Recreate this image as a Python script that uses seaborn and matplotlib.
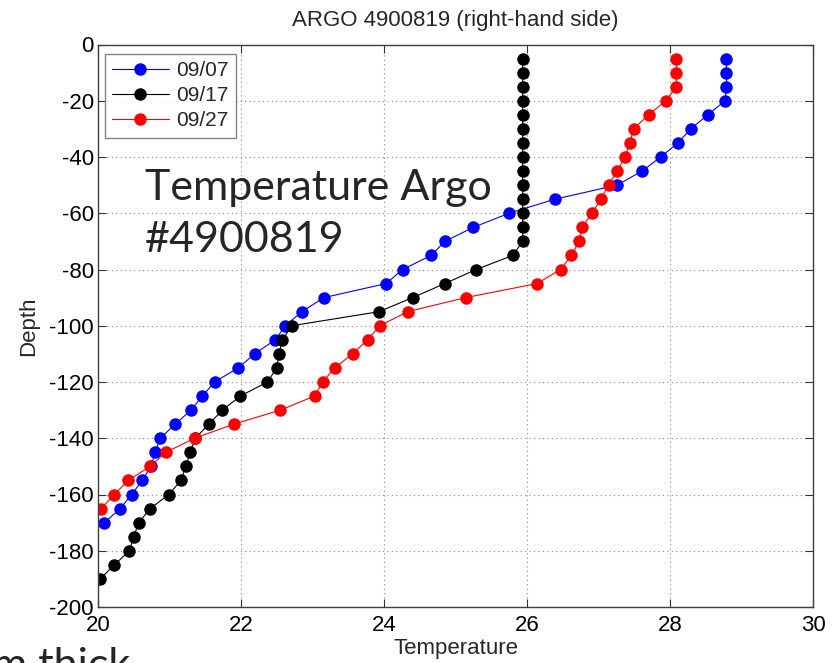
import matplotlib
matplotlib.use("Agg")
import matplotlib.pyplot as plt
import seaborn as sns
import pandas as pd
import numpy as np

# Argo float 4900819 temperature profiles (depth in m, negative downward)
depth_0907 = [-5, -10, -15, -20, -25, -30, -35, -40, -45, -50, -55, -60, -65, -70, -75, -80,
              -85, -90, -95, -100, -105, -110, -115, -120, -125, -130, -135, -140, -145, -150,
              -155, -160, -165, -170]
temp_0907 = [28.79, 28.79, 28.79, 28.77, 28.53, 28.29, 28.11, 27.87, 27.61, 27.26, 26.39, 25.75,
             25.25, 24.85, 24.66, 24.26, 24.03, 23.16, 22.85, 22.62, 22.48, 22.19, 21.96, 21.63,
             21.46, 21.30, 21.08, 20.87, 20.80, 20.74, 20.62, 20.47, 20.31, 20.09]

depth_0917 = [-5, -10, -15, -20, -25, -30, -35, -40, -45, -50, -55, -60, -65, -70, -75, -80,
              -85, -90, -95, -100, -105, -110, -115, -120, -125, -130, -135, -140, -145, -150,
              -155, -160, -165, -170, -175, -180, -185, -190]
temp_0917 = [25.94, 25.94, 25.94, 25.94, 25.94, 25.94, 25.94, 25.94, 25.94, 25.94, 25.94, 25.94,
             25.94, 25.94, 25.80, 25.29, 24.85, 24.40, 23.93, 22.71, 22.58, 22.53, 22.50, 22.37,
             21.99, 21.74, 21.55, 21.36, 21.29, 21.23, 21.16, 20.99, 20.73, 20.57, 20.50, 20.44,
             20.23, 20.03]

depth_0927 = [-5, -10, -15, -20, -25, -30, -35, -40, -45, -50, -55, -60, -65, -70, -75, -80,
              -85, -90, -95, -100, -105, -110, -115, -120, -125, -130, -135, -140, -145, -150,
              -155, -160, -165]
temp_0927 = [28.09, 28.09, 28.09, 27.94, 27.70, 27.49, 27.44, 27.37, 27.26, 27.14, 27.03, 26.91,
             26.77, 26.73, 26.62, 26.47, 26.14, 25.14, 24.33, 23.94, 23.77, 23.56, 23.31, 23.14,
             23.03, 22.55, 21.90, 21.35, 20.95, 20.73, 20.42, 20.23, 20.04]

dates = ["09/07", "09/17", "09/27"]
colors = ["#0000ff", "#000000", "#ff0000"]
x_ticks = [20, 22, 24, 26, 28, 30]
y_ticks = list(range(0, -201, -20))

profiles = pd.concat([
    pd.DataFrame({"Temperature": t, "Depth": d, "Date": lab, "order": np.arange(len(d))})
    for t, d, lab in zip([temp_0907, temp_0917, temp_0927],
                         [depth_0907, depth_0917, depth_0927], dates)
], ignore_index=True)

sns.set_style("white")
plt.rcParams["font.family"] = ["Liberation Sans", "DejaVu Sans"]
plt.rcParams["axes.unicode_minus"] = False

fig = plt.figure(figsize=(8.35, 6.63), dpi=100)
ax = fig.add_axes([98 / 835, 1 - 607 / 663, (813 - 98) / 835, (607 - 44.5) / 663])

sns.lineplot(data=profiles, x="Temperature", y="Depth", hue="Date", hue_order=dates,
             palette=colors, sort=False, estimator=None, marker="o", markersize=9,
             markeredgewidth=0, linewidth=0.8, ax=ax)

ax.set_xlim(20, 30)
ax.set_ylim(-200, 0)
ax.set_xticks(x_ticks)
ax.set_yticks(y_ticks)
ax.tick_params(direction="in", length=6, width=0.8, labelsize=16, colors="#333333",
               labelcolor="black", top=True, right=True, bottom=True, left=True, pad=3)
ax.tick_params(axis="x", pad=6)
ax.grid(True, linestyle=(0, (1, 3)), color="#888888", linewidth=0.8)
for s in ax.spines.values():
    s.set_color("#404040")
    s.set_linewidth(1.0)

ax.set_title("ARGO 4900819 (right-hand side)", fontsize=16, pad=13)
ax.set_xlabel("Temperature", fontsize=16, labelpad=1)
ax.set_ylabel("Depth", fontsize=16, labelpad=7)

leg = ax.legend(loc="upper left", fontsize=15, frameon=True, fancybox=False,
                handlelength=2.7, handletextpad=0.35, borderpad=0.35, labelspacing=0.3,
                borderaxespad=0, bbox_to_anchor=(7 / 715, 1 - 9 / 562.5))
leg.get_frame().set_edgecolor("#666666")
leg.get_frame().set_linewidth(1.0)
for h in leg.legend_handles:
    h.set_linewidth(0.8)
    h.set_markersize(9)

big = dict(fontsize=31, family=["Lato", "DejaVu Sans"], ha="left", va="baseline")
fig.text(145 / 835, 1 - 200 / 663, "Temperature Argo", **big)
fig.text(145 / 835, 1 - 252 / 663, "#4900819", **big)
fig.text(-8 / 835, 1 - 678 / 663, "m thick", **big)

fig.savefig("out.png", dpi=100)
